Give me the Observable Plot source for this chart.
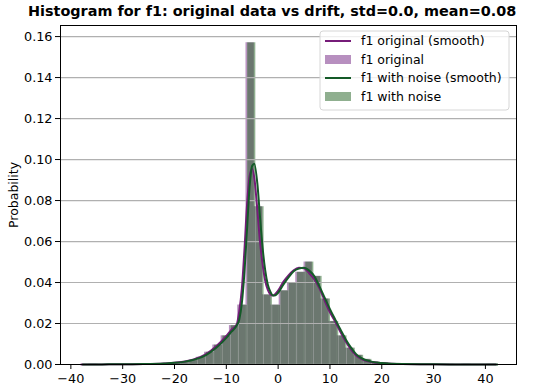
<!DOCTYPE html>
<html>
<head>
<meta charset="utf-8">
<script src="https://cdn.jsdelivr.net/npm/d3@7"></script>
<script src="https://cdn.jsdelivr.net/npm/@observablehq/plot@0.6"></script>
<style>
  body { margin: 0; background: #fff; }
  #wrap { position: relative; width: 550px; height: 388px; font-family: "DejaVu Sans", sans-serif; }
  #title { position: absolute; left: 28px; top: 3px; font-weight: bold; font-size: 14.4px; white-space: nowrap; color: #000; }
  #chart { position: absolute; left: 0; top: 22px; }
  #legend { position: absolute; left: 319px; top: 30px; }
</style>
</head>
<body>
<div id="wrap">
  <div id="title">Histogram for f1: original data vs drift, std=0.0, mean=0.08</div>
  <div id="chart"></div>
  <svg id="legend" width="194" height="82"></svg>
</div>
<script>
// ---- data ----
const binWidth = 1.6;
const origStart = -38.2;
const noiseStart = -37.9;
const origDensity = [
  0, 0.0001, 0, 0.0001, 0.0001, 0.0001, 0.0002, 0.0002, 0.0003, 0.0004,
  0.0005, 0.0008, 0.0012, 0.002, 0.0035, 0.006, 0.0095, 0.014, 0.019, 0.029,
  0.157, 0.077, 0.034, 0.029, 0.036, 0.040, 0.045, 0.050, 0.043, 0.032,
  0.021, 0.014, 0.008, 0.0045, 0.0025, 0.0013, 0.0008, 0.0005, 0.0003, 0.0002,
  0.0002, 0.0001, 0.0001, 0.0001, 0.0001, 0, 0.0001, 0, 0, 0.0001
];
const noiseDensity = [
  0, 0.0001, 0, 0.0001, 0.0001, 0.0001, 0.0002, 0.0002, 0.0003, 0.0004,
  0.0005, 0.0008, 0.0012, 0.002, 0.0035, 0.006, 0.0095, 0.014, 0.019, 0.029,
  0.157, 0.077, 0.034, 0.029, 0.036, 0.040, 0.045, 0.050, 0.043, 0.032,
  0.021, 0.014, 0.008, 0.0045, 0.0025, 0.0013, 0.0008, 0.0005, 0.0003, 0.0002,
  0.0002, 0.0001, 0.0001, 0.0001, 0.0001, 0, 0.0001, 0, 0, 0.0001
];
const kdeOrigX = [-38, -34, -30, -26, -22, -20, -18, -16.3, -14, -12, -10, -9, -8, -7.5, -7, -6.5, -6, -5.5, -5, -4.5, -4, -3.5, -3, -2.5, -2, -1.5, -1, -0.5, 0, 1, 2, 3, 4, 5, 6, 7, 8, 9, 10, 11, 12, 13, 14, 15, 16, 18, 20, 24, 30, 36, 42];
const kdeOrigY = [0, 0.00005, 0.0001, 0.0002, 0.0005, 0.0009, 0.0015, 0.0025, 0.005, 0.0088, 0.014, 0.017, 0.0195, 0.026, 0.037, 0.056, 0.078, 0.092, 0.0955, 0.089, 0.075, 0.060, 0.049, 0.041, 0.0365, 0.0342, 0.0337, 0.0345, 0.036, 0.0403, 0.0435, 0.046, 0.0472, 0.047, 0.0445, 0.0415, 0.037, 0.031, 0.0255, 0.021, 0.016, 0.0115, 0.0075, 0.0045, 0.0028, 0.0012, 0.0006, 0.0002, 0.0001, 0.00003, 0];
const kdeNoiseX = [-37.7, -34, -30, -26, -22, -20, -18, -16, -14, -12, -10, -9, -8, -7.5, -7, -6.5, -6, -5.5, -5, -4.6, -4, -3.5, -3, -2.5, -2, -1.5, -1, -0.5, 0, 1, 2, 3, 4, 5, 6, 7, 8, 9, 10, 11, 12, 13, 14, 15, 16, 18, 20, 24, 30, 36, 42.3];
const kdeNoiseY = [0, 0.00005, 0.0001, 0.0002, 0.0005, 0.0008, 0.0014, 0.0025, 0.0045, 0.008, 0.013, 0.016, 0.019, 0.022, 0.030, 0.045, 0.066, 0.087, 0.097, 0.098, 0.088, 0.072, 0.057, 0.046, 0.039, 0.0355, 0.0337, 0.0338, 0.035, 0.039, 0.0425, 0.0455, 0.0468, 0.0472, 0.0458, 0.043, 0.038, 0.0325, 0.027, 0.022, 0.0172, 0.0125, 0.0085, 0.0052, 0.0032, 0.0014, 0.0007, 0.0002, 0.0001, 0.00003, 0];
const xTicks = [-40, -30, -20, -10, 0, 10, 20, 30, 40];
const yTicks = [0, 0.02, 0.04, 0.06, 0.08, 0.10, 0.12, 0.14, 0.16];
const seriesNames = ["f1 original (smooth)", "f1 original", "f1 with noise (smooth)", "f1 with noise"];
const purpleFill = "#6f1f7f";
const greenFill = "#1f5f1f";
const purpleLine = "#761c79";
const greenLine = "#145a28";

// ---- build tables ----
const origBins = origDensity.map((d, i) => ({x1: origStart + i * binWidth, x2: origStart + (i + 1) * binWidth, y: d}));
const noiseBins = noiseDensity.map((d, i) => ({x1: noiseStart + i * binWidth, x2: noiseStart + (i + 1) * binWidth, y: d}));
const kdeOrig = kdeOrigX.map((x, i) => ({x, y: kdeOrigY[i]}));
const kdeNoise = kdeNoiseX.map((x, i) => ({x, y: kdeNoiseY[i]}));

const chart = Plot.plot({
  width: 550,
  height: 366,
  marginTop: 3,
  marginBottom: 24,
  marginLeft: 60,
  marginRight: 34,
  style: {fontFamily: "DejaVu Sans", fontSize: "12.8px", color: "#000", background: "#fff"},
  x: {domain: [-42, 46]},
  y: {domain: [0, 0.1654]},
  marks: [
    Plot.rectY(origBins, {x1: "x1", x2: "x2", y: "y", fill: purpleFill, fillOpacity: 0.5}),
    Plot.rectY(noiseBins, {x1: "x1", x2: "x2", y: "y", fill: greenFill, fillOpacity: 0.5, stroke: "#fff", strokeOpacity: 0.25, strokeWidth: 0.5}),
    Plot.gridY(yTicks, {stroke: "#b0b0b0", strokeOpacity: 1, strokeWidth: 1.2}),
    Plot.line(kdeOrig, {x: "x", y: "y", stroke: purpleLine, strokeWidth: 2, curve: "monotone-x"}),
    Plot.line(kdeNoise, {x: "x", y: "y", stroke: greenLine, strokeWidth: 2, curve: "monotone-x"}),
    Plot.axisX({ticks: xTicks, tickSize: 5, tickPadding: 4, label: null, stroke: "#000", fontSize: 12.8}),
    Plot.axisY({ticks: yTicks, tickFormat: d3.format(".2f"), tickSize: 5, tickPadding: 3, label: null, stroke: "#000", fontSize: 12.8}),
    Plot.text(["Probability"], {frameAnchor: "left", textAnchor: "middle", rotate: -90, dx: -47, fontSize: 12.5, fill: "#000"}),
    Plot.frame({stroke: "#000", strokeWidth: 1})
  ]
});
document.getElementById("chart").appendChild(chart);

// ---- legend ----
const leg = d3.select("#legend");
leg.append("rect").attr("x", 1).attr("y", 1).attr("width", 189).attr("height", 79)
  .attr("rx", 3).attr("fill", "#fff").attr("fill-opacity", 0.8).attr("stroke", "#d6d6d6");
const rowY = [11, 29.5, 48, 66.5];
const kinds = ["line", "patch", "line", "patch"];
const lineCols = [purpleLine, purpleFill, greenLine, greenFill];
const patchOpacity = [1, 0.5, 1, 0.5];
seriesNames.forEach((name, i) => {
  if (kinds[i] === "line") {
    leg.append("line").attr("x1", 6).attr("x2", 32).attr("y1", rowY[i]).attr("y2", rowY[i])
      .attr("stroke", lineCols[i]).attr("stroke-width", 2);
  } else {
    leg.append("rect").attr("x", 6).attr("y", rowY[i] - 4.5).attr("width", 26).attr("height", 9)
      .attr("fill", lineCols[i]).attr("fill-opacity", patchOpacity[i]);
  }
  leg.append("text").attr("x", 42).attr("y", rowY[i]).attr("dy", "0.35em")
    .attr("font-family", "DejaVu Sans").attr("font-size", 12.5).attr("fill", "#000").text(name);
});
</script>
</body>
</html>
